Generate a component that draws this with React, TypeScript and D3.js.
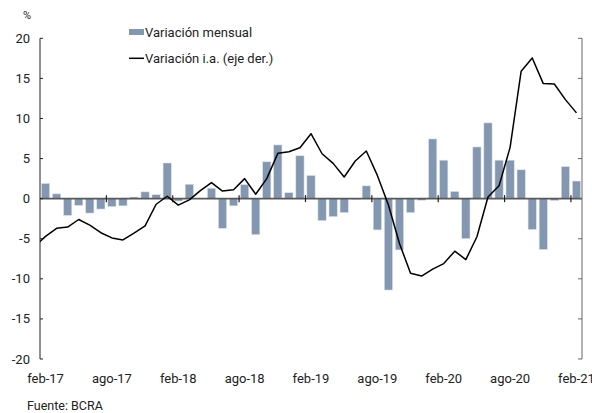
import React from "react";
import * as d3 from "d3";

const months = [
  "feb-17","mar-17","abr-17","may-17","jun-17","jul-17","ago-17","sep-17","oct-17","nov-17","dic-17","ene-18",
  "feb-18","mar-18","abr-18","may-18","jun-18","jul-18","ago-18","sep-18","oct-18","nov-18","dic-18","ene-19",
  "feb-19","mar-19","abr-19","may-19","jun-19","jul-19","ago-19","sep-19","oct-19","nov-19","dic-19","ene-20",
  "feb-20","mar-20","abr-20","may-20","jun-20","jul-20","ago-20","sep-20","oct-20","nov-20","dic-20","ene-21",
  "feb-21",
];

const mensual = [
  1.9, 0.6, -2.1, -0.85, -1.8, -1.3, -1.0, -0.9, 0.2, 0.85, 0.5, 4.45,
  -0.3, 1.8, 0.05, 1.3, -3.7, -0.9, 1.75, -4.5, 4.6, 6.7, 0.75, 5.35,
  2.9, -2.75, -2.25, -1.75, -0.1, 1.6, -3.9, -11.4, -6.4, -1.75, -0.2, 7.45,
  4.8, 0.9, -5.0, 6.45, 9.45, 4.8, 4.8, 3.6, -3.85, -6.35, -0.25, 4.0,
  2.2,
];

// previous month (ene-17) first, then feb-17 ... feb-21
const lineMonths = ["ene-17", ...months];
const interanual = [
  -6.0,
  -4.7, -3.7, -3.55, -2.6, -3.3, -4.25, -4.9, -5.15, -4.3, -3.4, -0.7, 0.3,
  -0.8, -0.15, 1.0, 2.0, 0.95, 1.1, 2.5, 0.55, 2.5, 5.65, 5.85, 6.35,
  8.1, 5.6, 4.4, 2.7, 4.7, 5.95, 2.9, -0.8, -5.6, -9.3, -9.65, -8.8,
  -8.1, -6.55, -7.6, -4.75, 0.2, 1.6, 6.4, 15.9, 17.55, 14.35, 14.3, 12.35,
  10.7,
];

const xTickLabels = ["feb-17","ago-17","feb-18","ago-18","feb-19","ago-19","feb-20","ago-20","feb-21"];
const yTicks = [20, 15, 10, 5, 0, -5, -10, -15, -20];

const W = 592, H = 413;
const left = 40, right = 582, top = 38.3, bottom = 359;
const FONT = "Roboto, 'Noto Sans', sans-serif";

export default function App() {
  const x = d3.scaleBand<string>().domain(months).range([left, right]).paddingInner(0.25).paddingOuter(0.125);
  const step = x.step();
  const y = d3.scaleLinear().domain([-20, 20]).range([bottom, top]);
  const cx = (m: string, i: number) => left + (i - 0.5) * step; // for lineMonths index i (0 = ene-17)
  const line = d3.line<number>().x((_, i) => cx(lineMonths[i], i)).y((d) => y(d));
  const y0 = y(0);
  const tickMonths = months.filter((_, i) => i > 0 && i % 6 === 0);

  return (
    <svg width={W} height={H} style={{ position: "absolute", left: 0, top: 0, fontFamily: FONT }}>
      <defs>
        <clipPath id="plot">
          <rect x={left} y={0} width={right - left} height={H} />
        </clipPath>
      </defs>
      <rect width={W} height={H} fill="#fff" />
      {/* bars */}
      {mensual.map((v, i) => (
        <rect
          key={i}
          x={x(months[i])}
          width={x.bandwidth()}
          y={Math.min(y(v), y0)}
          height={Math.abs(y(v) - y0)}
          fill="#8497b0"
          stroke="#dfe5ec"
          strokeWidth={0.6}
        />
      ))}
      {/* zero line */}
      <line x1={left} x2={right} y1={y0} y2={y0} stroke="#595959" strokeWidth={1.6} />
      {tickMonths.map((m) => (
        <line key={m} x1={(x(m) as number) - step * 0.125 * 0 - (step - x.bandwidth()) / 2} x2={(x(m) as number) - (step - x.bandwidth()) / 2} y1={y0 - 3.5} y2={y0 + 3.5} stroke="#222" strokeWidth={1.2} />
      ))}
      {/* line */}
      <path d={line(interanual) || ""} fill="none" stroke="#000" strokeWidth={1.5} clipPath="url(#plot)" strokeLinejoin="round" />
      {/* left axis */}
      <line x1={left} x2={left} y1={top} y2={bottom} stroke="#222" strokeWidth={1} />
      {yTicks.map((t) => (
        <g key={t}>
          <line x1={left} x2={left + 3} y1={y(t)} y2={y(t)} stroke="#222" />
          <text x={30} y={y(t)} textAnchor="end" dominantBaseline="central" fontSize={13} fill="#222">{t}</text>
        </g>
      ))}
      {/* right axis */}
      <line x1={right} x2={right} y1={top} y2={bottom} stroke="#666" strokeWidth={1} />
      {yTicks.map((t) => (
        <line key={"r" + t} x1={right - 4} x2={right} y1={y(t)} y2={y(t)} stroke="#666" />
      ))}
      {/* x labels */}
      {xTickLabels.map((m) => (
        <text key={m} x={(x(m) as number) + x.bandwidth() / 2} y={378} textAnchor="middle" dominantBaseline="central" fontSize={13} fill="#222">{m}</text>
      ))}
      <text x={27} y={15} textAnchor="middle" dominantBaseline="central" fontSize={11} fill="#222">%</text>
      {/* legend */}
      <rect x={129} y={29} width={15} height={6} fill="#8497b0" />
      <text x={145} y={32} dominantBaseline="central" fontSize={13} fill="#222">Variación mensual</text>
      <line x1={129} x2={144} y1={58.3} y2={58.3} stroke="#000" strokeWidth={1.5} />
      <text x={145} y={58} dominantBaseline="central" fontSize={13} fill="#222">Variación i.a. (eje der.)</text>
      <text x={27} y={405} dominantBaseline="central" fontSize={12.5} fill="#222">Fuente: BCRA</text>
    </svg>
  );
}
